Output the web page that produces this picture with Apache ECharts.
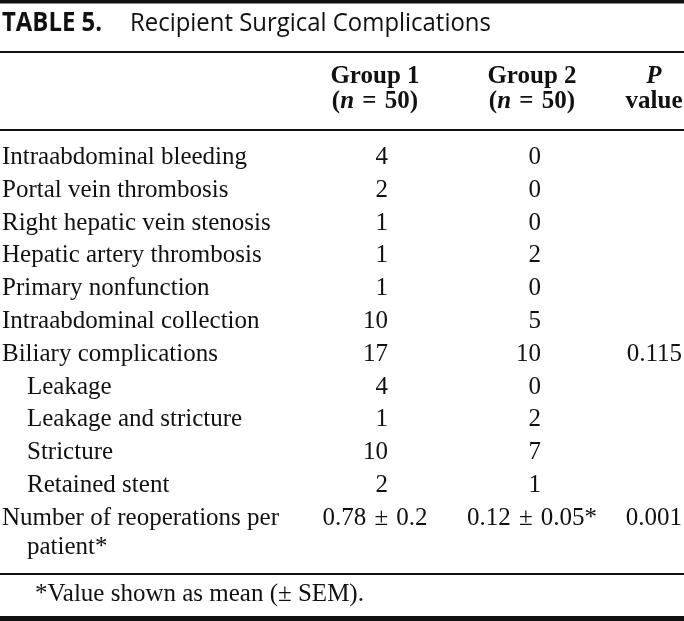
<!DOCTYPE html>
<html><head><meta charset="utf-8">
<script src="https://cdn.jsdelivr.net/npm/echarts@6/dist/echarts.min.js"></script>
<style>html,body{margin:0;padding:0;background:#fff}#c{width:684px;height:621px}</style>
</head><body><div id="c"></div>
<script>
// ---- data ----
const tableNumber = 'TABLE 5.';
const tableTitle = 'Recipient Surgical Complications';
const groupHeads = ['Group 1', 'Group 2'];
const groupSizes = [50, 50];
const pHead = ['P', 'value'];
const rowLabels = [
  'Intraabdominal bleeding',
  'Portal vein thrombosis',
  'Right hepatic vein stenosis',
  'Hepatic artery thrombosis',
  'Primary nonfunction',
  'Intraabdominal collection',
  'Biliary complications',
  'Leakage',
  'Leakage and stricture',
  'Stricture',
  'Retained stent',
  'Number of reoperations per\npatient*'
];
const rowLevel = [0, 0, 0, 0, 0, 0, 0, 1, 1, 1, 1, 0];
const group1 = ['4', '2', '1', '1', '1', '10', '17', '4', '1', '10', '2', '0.78 ± 0.2'];
const group2 = ['0', '0', '0', '2', '0', '5', '10', '0', '2', '7', '1', '0.12 ± 0.05*'];
const pValues = ['', '', '', '', '', '', '0.115', '', '', '', '', '0.001'];
const footnote = '*Value shown as mean (± SEM).';

// ---- layout ----
const W = 684, H = 621;
const SERIF = "'Liberation Serif', 'Times New Roman', serif";
const SANS = "'Open Sans', 'Noto Sans', sans-serif";
const INK = '#111';
const FS = 25;
const PITCH = 32.8;
const FIRST_CENTER = 157.5;
const CONT_GAP = 29;
const LEFT = 2, INDENT = 25;
const cols = [
  { intRight: 388, center: 375 },
  { intRight: 541, center: 532 },
  { right: 682, center: 654 }
];
const gridTop = FIRST_CENTER - PITCH / 2;
const gridBottom = H - (gridTop + PITCH * rowLabels.length);

const chart = echarts.init(document.getElementById('c'), null, { renderer: 'canvas' });

const bodyFont = FS + 'px ' + SERIF;
const boldFont = 'bold ' + FS + 'px ' + SERIF;

function txt(text, x, y, align, font, extra) {
  return { type: 'text', style: Object.assign({ text, x, y, align, verticalAlign: 'middle', font, fill: INK }, extra || {}) };
}

const bodyRich = {
  t: { font: bodyFont, fill: INK },
  pm: { font: bodyFont, fill: INK, padding: [0, 2] }
};
function cellText(v, x, y, align) {
  if (v.indexOf(' ± ') < 0) return txt(v, x, y, align, bodyFont);
  const parts = v.split(' ± ');
  return { type: 'text', style: { text: '{t|' + parts[0] + ' }{pm|±}{t| ' + parts[1] + '}', rich: bodyRich, x, y, align, verticalAlign: 'middle' } };
}

function renderRow(params, api) {
  const i = api.value(1);
  const yc = api.coord([0, i])[1];
  const xOf = v => api.coord([v, i])[0];
  const children = [];
  rowLabels[i].split('\n').forEach((ln, k) => {
    const lvl = rowLevel[i] + (k > 0 ? 1 : 0);
    children.push(txt(ln, xOf(LEFT + lvl * INDENT), yc + k * CONT_GAP, 'left', bodyFont));
  });
  [group1, group2].forEach((arr, g) => {
    const v = arr[i];
    if (!v) return;
    if (/^\d+$/.test(v)) children.push(cellText(v, xOf(cols[g].intRight), yc, 'right'));
    else children.push(cellText(v, xOf(cols[g].center), yc, 'center'));
  });
  if (pValues[i]) children.push(cellText(pValues[i], xOf(cols[2].right), yc, 'right'));
  return { type: 'group', children };
}

const rules = [
  { y: 0, h: 3.5 }, { y: 51, h: 2 }, { y: 129, h: 2 }, { y: 573, h: 2 }, { y: 616, h: 5 }
].map(r => ({ type: 'rect', shape: { x: 0, y: r.y, width: W, height: r.h }, style: { fill: INK }, silent: true }));

const headRich = {
  b: { font: boldFont, fill: INK },
  bi: { font: 'italic bold ' + FS + 'px ' + SERIF, fill: INK },
  eq: { font: boldFont, fill: INK, padding: [0, 2] }
};
const headers = [];
groupHeads.forEach((g, k) => {
  headers.push(txt(g, cols[k].center, 77, 'center', boldFont));
  headers.push({ type: 'text', style: { text: '{b|(}{bi|n}{b| }{eq|=}{b| ' + groupSizes[k] + ')}', rich: headRich, x: cols[k].center, y: 102, align: 'center', verticalAlign: 'middle' } });
});
headers.push(txt(pHead[0], cols[2].center, 77, 'center', 'italic bold ' + FS + 'px ' + SERIF));
headers.push(txt(pHead[1], cols[2].center, 102, 'center', boldFont));

const titleScale = 0.92;
const titles = [
  { type: 'text', x: 2, y: 24, scaleX: titleScale, style: { text: tableNumber, x: 0, y: 0, align: 'left', verticalAlign: 'middle', font: 'bold 26px ' + SANS, fill: INK } },
  { type: 'text', x: 130, y: 24, scaleX: titleScale, style: { text: tableTitle, x: 0, y: 0, align: 'left', verticalAlign: 'middle', font: '26px ' + SANS, fill: INK } },
  txt(footnote, 35, 594, 'left', bodyFont)
];

chart.setOption({
  backgroundColor: '#fff',
  animation: false,
  grid: { left: 0, right: 0, top: gridTop, bottom: gridBottom },
  xAxis: { type: 'value', min: 0, max: W, show: false },
  yAxis: { type: 'category', data: rowLabels, inverse: true, show: false },
  series: [{
    type: 'custom',
    renderItem: renderRow,
    encode: { x: 0, y: 1 },
    data: rowLabels.map((_, i) => [0, i]),
    silent: true
  }],
  graphic: { elements: rules.concat(headers, titles) }
});
</script></body></html>
